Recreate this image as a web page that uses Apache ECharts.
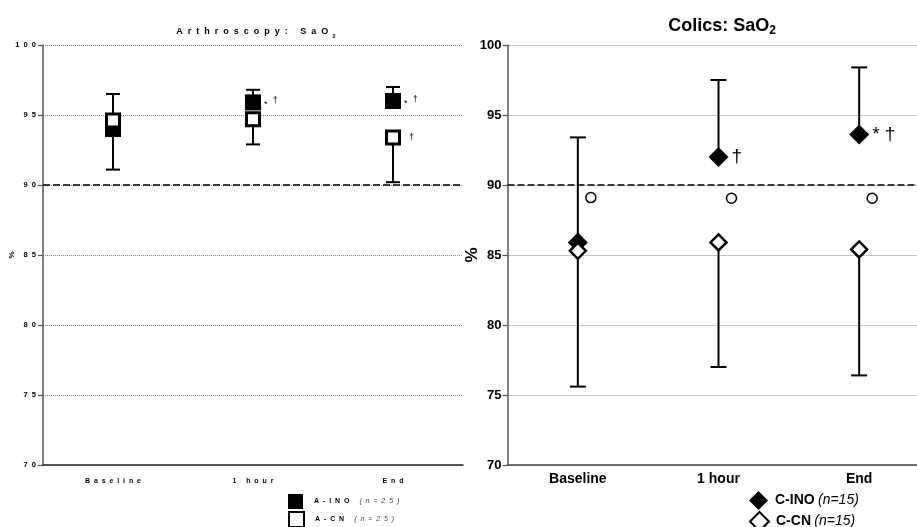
<!DOCTYPE html>
<html>
<head>
<meta charset="utf-8">
<script src="https://cdn.jsdelivr.net/npm/echarts@6/dist/echarts.min.js"></script>
<style>
  html, body { margin: 0; padding: 0; background: #fff; overflow: hidden; }
  /* the right panel's plot area runs past the window edge, so the canvas is a little wider */
  #chart { width: 930px; height: 527px; }
</style>
</head>
<body>
<div id="chart"></div>
<script>
// ---- data ----
const categories = ['Baseline', '1 hour', 'End'];
const yMin = 70, yMax = 100, yStep = 5;
const threshold = 90;

// Arthroscopy: SaO2
const aInoMean  = [94.0, 95.9, 96.0];
const aInoUpper = [96.5, 96.8, 97.0];
const aCnMean   = [94.6, 94.7, 93.4];
const aCnLower  = [91.1, 92.9, 90.2];
const aInoNotes = ['', '*†', '*†'];
const aCnNotes  = ['', '', '†'];

// Colics: SaO2
const cInoMean  = [85.9, 92.0, 93.6];
const cInoUpper = [93.4, 97.5, 98.4];
const cCnMean   = [85.3, 85.9, 85.4];
const cCnLower  = [75.6, 77.0, 76.4];
const cCircle   = [89.1, 89.05, 89.05];
const cInoNotes = ['', '†', '* †'];

// ---- helpers ----
const FONT = 'Liberation Sans, Arial, sans-serif';
const spaced = s => s.split('').join('  ');

function errorBars(axis, means, ends, capW, lw) {
  return {
    type: 'custom', xAxisIndex: axis, yAxisIndex: axis, z: 2, silent: true,
    data: means.map((m, i) => [i, m, ends[i]]),
    encode: { x: 0, y: [1, 2] },
    renderItem(params, api) {
      const a = api.coord([api.value(0), api.value(1)]);
      const b = api.coord([api.value(0), api.value(2)]);
      const st = { stroke: '#000', lineWidth: lw };
      return { type: 'group', children: [
        { type: 'line', shape: { x1: a[0], y1: a[1], x2: b[0], y2: b[1] }, style: st },
        { type: 'line', shape: { x1: b[0] - capW / 2, y1: b[1], x2: b[0] + capW / 2, y2: b[1] }, style: st }
      ]};
    }
  };
}

function leftNote(txt) {
  return txt.split('').map(c => c === '*' ? '{s|*}' : '{d|†}').join(' ');
}

const refLine = {
  silent: true, symbol: ['none', 'none'],
  label: { show: false },
  lineStyle: { color: '#000', type: [7, 3], width: 1.6 },
  data: [{ yAxis: threshold }]
};

// one legend entry per component, stacked by position
function smallLegend(name, top) {
  return {
    data: [name], left: 283, top: top,
    itemWidth: 15, itemHeight: 15, selectedMode: false,
    formatter: n => '{b|' + spaced(n) + '}   {i|' + spaced('(n=25)') + '}',
    textStyle: { padding: [0, 0, 0, 6], rich: {
      b: { fontSize: 7, fontWeight: 'bold', color: '#000', fontFamily: FONT },
      i: { fontSize: 7, fontStyle: 'italic', color: '#444', fontFamily: FONT }
    }}
  };
}
function bigLegend(name, top) {
  return {
    data: [name], left: 744, top: top,
    itemWidth: 19, itemHeight: 19, selectedMode: false,
    formatter: n => '{b|' + n + '} {i|(n=15)}',
    textStyle: { padding: [0, 0, 0, 2], rich: {
      b: { fontSize: 14, fontWeight: 'bold', color: '#000', fontFamily: FONT },
      i: { fontSize: 14, fontStyle: 'italic', color: '#000', fontFamily: FONT }
    }}
  };
}

const chart = echarts.init(document.getElementById('chart'), null, { renderer: 'canvas' });

chart.setOption({
  animation: false,
  backgroundColor: '#fff',
  textStyle: { fontFamily: FONT },
  title: [
    {
      text: '{t|' + spaced('Arthroscopy: SaO') + '}{sub|2}',
      left: 251, top: 20, textAlign: 'center',
      textStyle: { rich: {
        t: { fontSize: 9, fontWeight: 'bold', color: '#000', fontFamily: FONT },
        sub: { fontSize: 6, fontWeight: 'bold', color: '#000', fontFamily: FONT, padding: [8, 0, 0, 4] }
      }}
    },
    {
      text: '{t|Colics: SaO}{sub|2}',
      left: 717, top: 10, textAlign: 'center',
      textStyle: { rich: {
        t: { fontSize: 18, fontWeight: 'bold', color: '#000', fontFamily: FONT },
        sub: { fontSize: 12, fontWeight: 'bold', color: '#000', fontFamily: FONT, padding: [10, 0, 0, 0] }
      }}
    }
  ],
  grid: [
    { left: 43, top: 45, width: 420, height: 420 },
    { left: 507.5, top: 45, width: 422, height: 420 }
  ],
  xAxis: [
    {
      type: 'category', gridIndex: 0, data: categories, boundaryGap: true,
      axisLine: { lineStyle: { color: '#222', width: 1.5 } },
      axisTick: { alignWithLabel: true, length: 4, lineStyle: { color: '#222', width: 1.2 } },
      axisLabel: { formatter: spaced, fontSize: 7, fontWeight: 'bold', color: '#000', margin: 13 }
    },
    {
      type: 'category', gridIndex: 1, data: categories, boundaryGap: true,
      axisLine: { lineStyle: { color: '#444', width: 1.5 } },
      axisTick: { alignWithLabel: true, length: 5, lineStyle: { color: '#444', width: 1.2 } },
      axisLabel: { fontSize: 14, fontWeight: 'bold', color: '#000', margin: 7 }
    }
  ],
  yAxis: [
    {
      type: 'value', gridIndex: 0, min: yMin, max: yMax, interval: yStep,
      name: '%', nameLocation: 'middle', nameRotate: 90, nameGap: 27, nameMoveOverlap: false,
      nameTextStyle: { fontSize: 8, fontWeight: 'bold', color: '#000' },
      axisLine: { show: true, lineStyle: { color: '#555', width: 1.5 } },
      axisTick: { show: true, length: 5, lineStyle: { color: '#555', width: 1.2 } },
      axisLabel: { formatter: v => spaced(String(v)), fontSize: 7.5, fontWeight: 'bold', color: '#000', margin: 7 },
      splitLine: { show: true, lineStyle: { color: '#888', type: 'dotted', width: 1 } }
    },
    {
      type: 'value', gridIndex: 1, min: yMin, max: yMax, interval: yStep,
      name: '%', nameLocation: 'middle', nameRotate: 90, nameGap: 27, nameMoveOverlap: false,
      nameTextStyle: { fontSize: 17, fontWeight: 'bold', color: '#000' },
      axisLine: { show: true, lineStyle: { color: '#555', width: 1.5 } },
      axisTick: { show: true, length: 5, lineStyle: { color: '#555', width: 1.2 } },
      axisLabel: { fontSize: 13, fontWeight: 'bold', color: '#000', margin: 6 },
      splitLine: { show: true, lineStyle: { color: '#888', type: 'dotted', width: 1 } }
    }
  ],
  legend: [
    smallLegend('A-INO', 489),
    smallLegend('A-CN', 506),
    bigLegend('C-INO', 486),
    bigLegend('C-CN', 506)
  ],
  series: [
    // Arthroscopy
    errorBars(0, aInoMean, aInoUpper, 14, 2),
    errorBars(0, aCnMean, aCnLower, 14, 2),
    {
      name: 'A-INO', type: 'scatter', xAxisIndex: 0, yAxisIndex: 0, z: 3,
      data: aInoMean.map((v, i) => [i, v]),
      symbol: 'rect', symbolSize: 16,
      itemStyle: { color: '#000', opacity: 1 },
      markLine: refLine,
      label: {
        show: true, position: 'right', distance: 3,
        formatter: p => leftNote(aInoNotes[p.dataIndex]),
        rich: {
          s: { fontSize: 9, color: '#000', padding: [5, 0, 0, 0] },
          d: { fontSize: 9, color: '#000', padding: [0, 0, 3, 2] }
        }
      }
    },
    {
      name: 'A-CN', type: 'scatter', xAxisIndex: 0, yAxisIndex: 0, z: 4,
      data: aCnMean.map((v, i) => [i, v]),
      symbol: 'rect', symbolSize: 13,
      itemStyle: { color: '#fff', borderColor: '#000', borderWidth: 3, opacity: 1 },
      label: {
        show: true, position: 'right', distance: 6,
        formatter: p => leftNote(aCnNotes[p.dataIndex]),
        rich: {
          s: { fontSize: 9, color: '#000', padding: [5, 0, 0, 0] },
          d: { fontSize: 9, color: '#000', padding: [0, 0, 0, 2] }
        }
      }
    },
    // Colics
    errorBars(1, cInoMean, cInoUpper, 16, 2),
    errorBars(1, cCnMean, cCnLower, 16, 2),
    {
      name: 'C-INO', type: 'scatter', xAxisIndex: 1, yAxisIndex: 1, z: 3,
      data: cInoMean.map((v, i) => [i, v]),
      symbol: 'diamond', symbolSize: 20,
      itemStyle: { color: '#000', opacity: 1 },
      markLine: refLine,
      label: {
        show: true, position: 'right', distance: 3,
        formatter: p => cInoNotes[p.dataIndex],
        fontSize: 19, color: '#000', fontFamily: FONT
      }
    },
    {
      name: 'C-CN', type: 'scatter', xAxisIndex: 1, yAxisIndex: 1, z: 4,
      data: cCnMean.map((v, i) => [i, v]),
      symbol: 'diamond', symbolSize: 16,
      itemStyle: { color: '#fff', borderColor: '#000', borderWidth: 2.5, opacity: 1 }
    },
    {
      type: 'scatter', xAxisIndex: 1, yAxisIndex: 1, z: 4, silent: true,
      data: cCircle.map((v, i) => [i, v]),
      symbol: 'circle', symbolSize: 10, symbolOffset: [13, 0],
      itemStyle: { color: '#fff', borderColor: '#000', borderWidth: 1.5, opacity: 1 }
    }
  ]
});
</script>
</body>
</html>
